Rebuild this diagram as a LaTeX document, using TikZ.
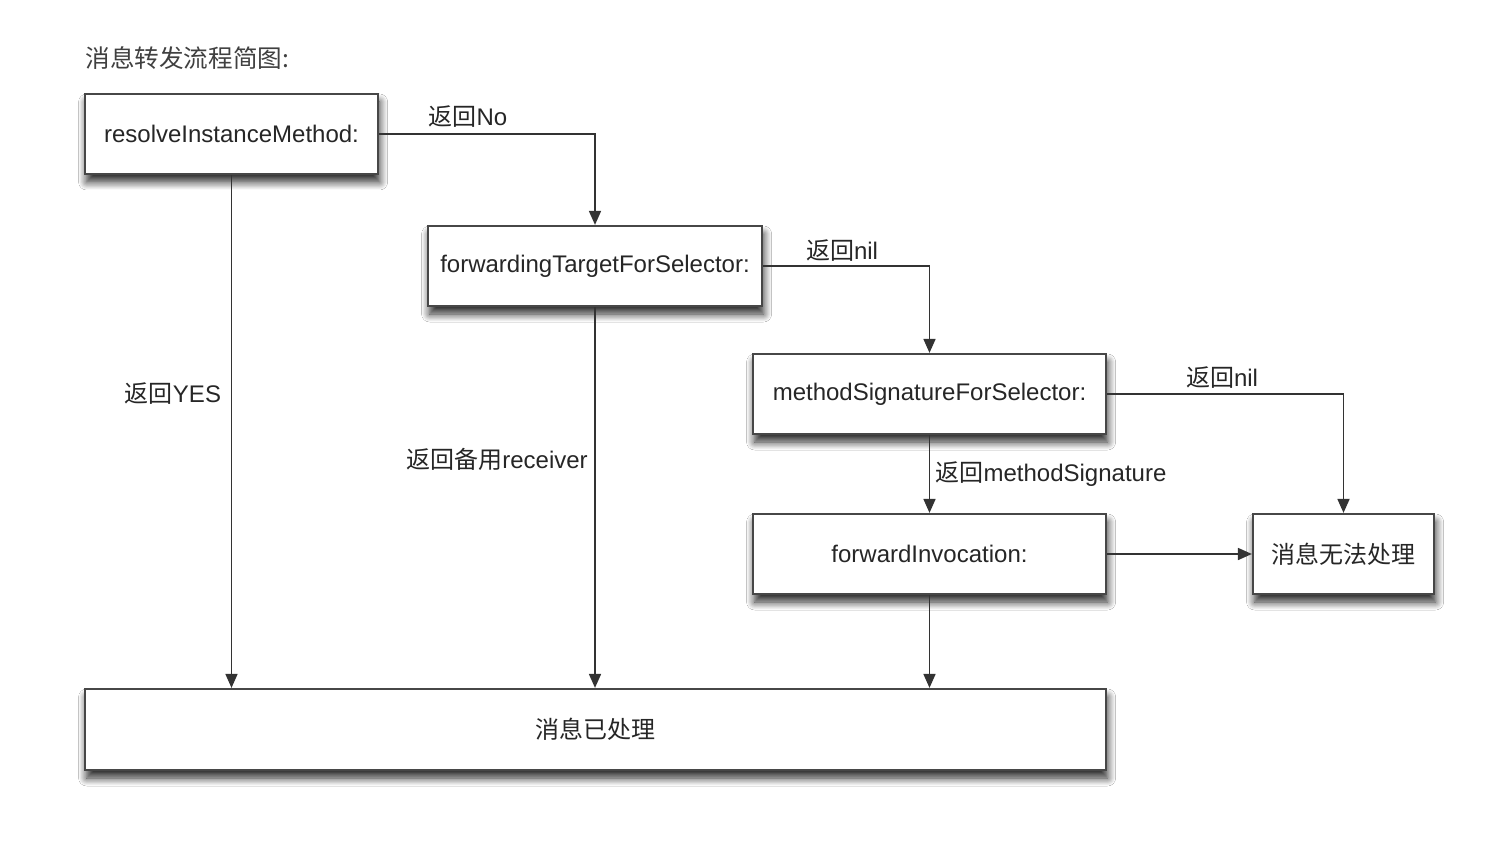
\documentclass[tikz,border=0pt]{standalone}
\usepackage{fontspec}
\setmainfont{Liberation Sans}
\newfontfamily\cjk{Noto Sans CJK SC}
\usetikzlibrary{arrows.meta,shadows.blur}
\begin{document}
\begin{tikzpicture}[x=0.5pt,y=-0.5pt,
 box/.style={draw=black!72, line width=1.1pt, fill=white, inner sep=0pt,
   blur shadow={shadow xshift=0.8pt, shadow yshift=-4pt, shadow blur radius=4pt, shadow blur steps=10, shadow opacity=85},
   text=black!85, font=\fontsize{12}{14}\selectfont},
 conn/.style={draw=black!80, line width=0.85pt, -{Triangle[length=7pt,width=6pt]}},
 lbl/.style={font=\fontsize{12}{14}\selectfont, inner sep=1pt, text=black!85}]
\useasboundingbox (0,0) rectangle (1504,844);
\fill[white] (0,0) rectangle (1504,844);
\node[anchor=west, text=black!75, font=\fontsize{12.3}{14}\selectfont, inner sep=0pt] (title) at (85,58) {\cjk 消息转发流程简图:};
\node[box, minimum width=146.5pt, minimum height=40pt] (b1) at (231.5,134) {resolveInstanceMethod:};
\node[box, minimum width=167pt, minimum height=40pt] (b2) at (595,266) {forwardingTargetForSelector:};
\node[box, minimum width=176.5pt, minimum height=40pt] (b3) at (929.5,394) {methodSignatureForSelector:};
\node[box, minimum width=176.5pt, minimum height=40pt] (b4) at (929.5,554) {forwardInvocation:};
\node[box, minimum width=90.5pt, minimum height=40pt] (b5) at (1343.5,554) {\cjk 消息无法处理};
\node[box, minimum width=510.5pt, minimum height=40.5pt] (b6) at (595.5,729.5) {\cjk 消息已处理};
% connectors
\draw[conn] (b1.east) -| (b2.north);
\draw[conn] (b2.east) -| (b3.north);
\draw[conn] (b3.east) -| (b5.north);
\draw[conn] (b3.south) -- (b4.north);
\draw[conn] (b4.east) -- (b5.west);
\draw[conn] (b1.south) -- (b1.south |- b6.north);
\draw[conn] (b2.south) -- (b2.south |- b6.north);
\draw[conn] (b4.south) -- (b4.south |- b6.north);
% labels
\node[lbl] (l1) at (468,117) {{\cjk 返回}No};
\node[lbl] (l2) at (842,251) {{\cjk 返回}nil};
\node[lbl] (l3) at (1222,378) {{\cjk 返回}nil};
\node[lbl] (l4) at (173,394) {{\cjk 返回}YES};
\node[lbl] (l5) at (497,459) {{\cjk 返回备用}receiver};
\node[lbl] (l6) at (1051,474) {{\cjk 返回}methodSignature};
\end{tikzpicture}
\end{document}
